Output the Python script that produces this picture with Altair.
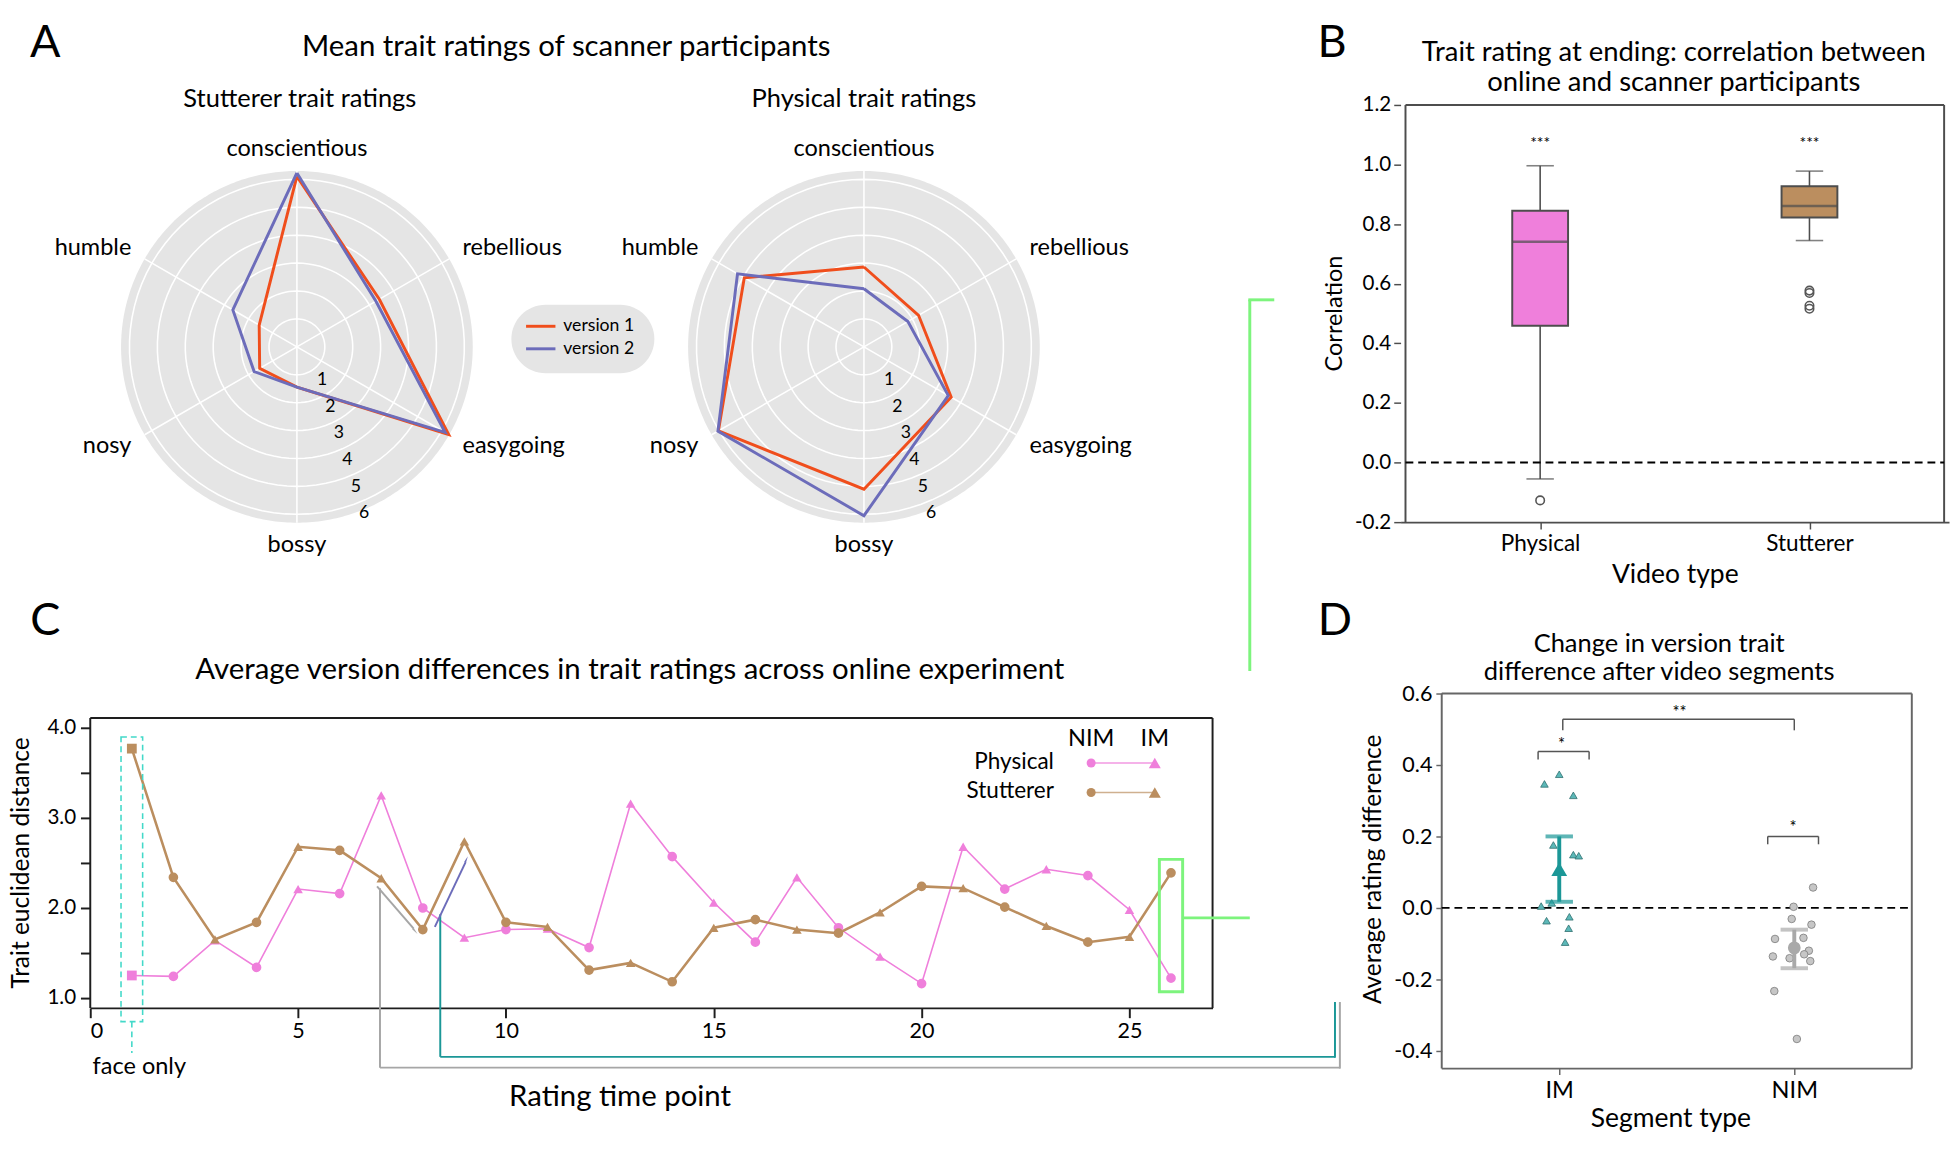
import altair as alt
import pandas as pd

FONT = "Lato"
PINK = "#EF7FDB"
TAN = "#BB8E5F"
ORANGE = "#F04E1C"
PURPLE = "#6C6CBA"
TEAL = "#1B9797"
TEAL_PT = "#5CB8B8"
GREY_PT = "#C6C6C6"
GREY_MEAN = "#A9A9A9"
GREEN = "#7DF47D"
CYAN = "#43D9C9"
CONN_GREY = "#A6A6A6"
DISC = "#E5E5E5"
MINUS = "\u2212"

ONE = pd.DataFrame({"k": [0]})

# ---------------- data ----------------
# A: radar charts
traits = ["conscientious", "rebellious", "easygoing", "bossy", "nosy", "humble"]
radar_panels = ["Stutterer", "Physical"]
versions = ["version 1", "version 2"]
stut_v1 = [6.11, 3.41, 6.28, 1.44, 1.54, 1.56]
stut_v2 = [6.23, 3.27, 6.13, 1.44, 1.77, 2.65]
phys_v1 = [2.86, 2.26, 3.61, 5.10, 6.02, 4.95]
phys_v2 = [2.08, 1.82, 3.49, 6.05, 6.04, 5.23]
radial_ticks = [1, 2, 3, 4, 5, 6]

# B: box plots
video_types = ["Physical", "Stutterer"]
box_low = [-0.055, 0.745]
box_q1 = [0.459, 0.822]
box_med = [0.741, 0.861]
box_q3 = [0.845, 0.927]
box_high = [0.996, 0.978]
box_sig = ["***", "***"]
outlier_type = ["Physical", "Stutterer", "Stutterer", "Stutterer", "Stutterer"]
outlier_val = [-0.127, 0.577, 0.569, 0.526, 0.516]

# C: time course
time_point = [1, 2, 3, 4, 5, 6, 7, 8, 9, 10, 11, 12, 13,
              14, 15, 16, 17, 18, 19, 20, 21, 22, 23, 24, 25, 26]
segment = ["face", "NIM", "IM", "NIM", "IM", "NIM", "IM", "NIM", "IM", "NIM", "IM", "NIM", "IM",
           "NIM", "IM", "NIM", "IM", "NIM", "IM", "NIM", "IM", "NIM", "IM", "NIM", "IM", "NIM"]
phys_dist = [1.25, 1.24, 1.64, 1.34, 2.21, 2.16, 3.25, 2.00, 1.67, 1.76, 1.77, 1.56, 3.16,
             2.57, 2.06, 1.62, 2.34, 1.78, 1.46, 1.16, 2.68, 2.21, 2.43, 2.36, 1.98, 1.22]
stut_dist = [3.77, 2.34, 1.65, 1.84, 2.68, 2.64, 2.33, 1.76, 2.74, 1.84, 1.79, 1.31, 1.39,
             1.18, 1.78, 1.87, 1.76, 1.72, 1.95, 2.24, 2.22, 2.01, 1.80, 1.62, 1.68, 2.39]

# D: segment differences
seg_types = ["IM", "NIM"]
im_diff = [0.347, 0.374, 0.315, 0.176, 0.149, 0.146, 0.005, 0.014, -0.036, -0.025, -0.057, -0.096]
im_jitter = [-0.063, 0.0, 0.060, -0.025, 0.060, 0.083, -0.077, -0.032, -0.054, 0.043, 0.040, 0.025]
nim_diff = [0.057, 0.003, -0.031, -0.047, -0.087, -0.084, -0.120, -0.130, -0.136, -0.141, -0.149,
            -0.233, -0.367]
nim_jitter = [0.080, -0.003, -0.011, 0.073, -0.082, 0.039, 0.062, 0.042, -0.091, -0.020, 0.068,
              -0.085, 0.011]
seg_mean = [0.108, -0.112]
seg_lo = [0.017, -0.169]
seg_hi = [0.200, -0.061]

# significance brackets (annotation, data units)
brk_x = [-0.09, -0.09, 0.127, 0.887, 0.887, 1.103, 0.015, 0.015, 1.0]
brk_x2 = [0.127, -0.09, 0.127, 1.103, 0.887, 1.103, 1.0, 0.015, 1.0]
brk_y = [0.438, 0.415, 0.415, 0.200, 0.178, 0.178, 0.528, 0.497, 0.497]
brk_y2 = [0.438, 0.438, 0.438, 0.200, 0.200, 0.200, 0.528, 0.528, 0.528]
sig_x = [0.01, 0.995, 0.512]
sig_y = [0.456, 0.222, 0.546]
sig_lab = ["*", "*", "**"]


def txt(text, x, y, size, align="center", baseline="middle", color="black", angle=0):
    return alt.Chart(ONE).mark_text(
        text=text, fontSize=size, align=align, baseline=baseline, color=color, angle=angle
    ).encode(x=alt.value(x), y=alt.value(y))


def frame_rule(color, width, **enc):
    return alt.Chart(ONE).mark_rule(color=color, strokeWidth=width).encode(**enc)


B_TOP = 86            # free space above panel B's plot frame
B_H = 426             # panel B plot height
ROW1_H = B_TOP + B_H  # height of the top-row views
ROW_GAP = 662 - ROW1_H

# ================= A: radar =================
PX = 28.5
RW = 1104
CX, CY = 211, 333
POFF = 579 / PX
RMAX = 6.3
RLAB = 7.1
RT_ANG = 162.4
xdom = [-CX / PX, (RW - CX) / PX]
ydom = [-(ROW1_H - CY) / PX, CY / PX]
offs = [0.0, POFF]

XS = alt.Scale(domain=xdom, nice=False, zero=False)
YS = alt.Scale(domain=ydom, nice=False, zero=False)


def RX(f):
    return alt.X(f, scale=XS, axis=None)


def RY(f):
    return alt.Y(f, scale=YS, axis=None)


panels_df = pd.DataFrame({"panel": radar_panels, "off": offs})
rings_df = pd.DataFrame([{"panel": p, "off": o, "r": r}
                         for p, o in zip(radar_panels, offs) for r in radial_ticks])
spokes_df = pd.DataFrame([{"panel": p, "off": o, "k": k}
                          for p, o in zip(radar_panels, offs) for k in range(len(traits))])
labels_df = pd.DataFrame([{"panel": p, "off": o, "k": k, "name": n}
                          for p, o in zip(radar_panels, offs) for k, n in enumerate(traits)])
poly_rows = []
for p, o, v1, v2 in zip(radar_panels, offs, [stut_v1, phys_v1], [stut_v2, phys_v2]):
    for ver, vals in zip(versions, [v1, v2]):
        for i in range(len(traits) + 1):
            poly_rows.append({"panel": p, "off": o, "version": ver, "idx": i,
                              "val": vals[i % len(traits)]})
poly_df = pd.DataFrame(poly_rows)

disc = (alt.Chart(panels_df)
        .transform_calculate(t="sequence(-90, 91, 1)")
        .transform_flatten(["t"])
        .transform_calculate(x=f"datum.off + {RMAX} * sin(datum.t * PI / 180)")
        .transform_calculate(y=f"{RMAX} * cos(datum.t * PI / 180)")
        .transform_calculate(y2="-datum.y")
        .mark_area(color=DISC)
        .encode(x=RX("x:Q"), y=RY("y:Q"), y2="y2:Q", detail="panel:N"))

rings = (alt.Chart(rings_df)
         .transform_calculate(a="sequence(0, 364, 4)")
         .transform_flatten(["a"])
         .transform_calculate(x="datum.off + datum.r * sin(datum.a * PI / 180)")
         .transform_calculate(y="datum.r * cos(datum.a * PI / 180)")
         .transform_calculate(key="datum.panel + '-' + datum.r")
         .mark_line(color="white", strokeWidth=1.6)
         .encode(x=RX("x:Q"), y=RY("y:Q"), detail="key:N", order="a:Q"))

spokes = (alt.Chart(spokes_df)
          .transform_calculate(x0="datum.off", y0="0")
          .transform_calculate(x1=f"datum.off + {RMAX} * sin(datum.k * PI / 3)")
          .transform_calculate(y1=f"{RMAX} * cos(datum.k * PI / 3)")
          .mark_rule(color="white", strokeWidth=1.6)
          .encode(x=RX("x0:Q"), y=RY("y0:Q"), x2="x1:Q", y2="y1:Q"))

polys = (alt.Chart(poly_df)
         .transform_calculate(x="datum.off + datum.val * sin(datum.idx * PI / 3)")
         .transform_calculate(y="datum.val * cos(datum.idx * PI / 3)")
         .mark_line(strokeWidth=3)
         .encode(x=RX("x:Q"), y=RY("y:Q"),
                 color=alt.Color("version:N", scale=alt.Scale(domain=versions, range=[ORANGE, PURPLE]),
                                 legend=None),
                 detail="panel:N", order="idx:Q"))

lab_base = (alt.Chart(labels_df)
            .transform_calculate(x=f"datum.off + {RLAB - 0.25} * sin(datum.k * PI / 3)")
            .transform_calculate(y=f"{RLAB} * cos(datum.k * PI / 3)"))
lab_c = lab_base.transform_filter("datum.k == 0 || datum.k == 3").mark_text(
    fontSize=24, align="center", baseline="middle").encode(x=RX("x:Q"), y=RY("y:Q"), text="name:N")
lab_l = lab_base.transform_filter("datum.k == 1 || datum.k == 2").mark_text(
    fontSize=24, align="left", baseline="middle").encode(x=RX("x:Q"), y=RY("y:Q"), text="name:N")
lab_r = lab_base.transform_filter("datum.k == 4 || datum.k == 5").mark_text(
    fontSize=24, align="right", baseline="middle").encode(x=RX("x:Q"), y=RY("y:Q"), text="name:N")

rtick = (alt.Chart(rings_df)
         .transform_calculate(x=f"datum.off + datum.r * sin({RT_ANG} * PI / 180)")
         .transform_calculate(y=f"datum.r * cos({RT_ANG} * PI / 180)")
         .mark_text(fontSize=18, dx=17, dy=7)
         .encode(x=RX("x:Q"), y=RY("y:Q"), text="r:Q"))

leg_box = alt.Chart(ONE).mark_rect(color=DISC, cornerRadius=35).encode(
    x=alt.value(430), x2=alt.value(576), y=alt.value(290), y2=alt.value(360))
leg_l1 = alt.Chart(ONE).mark_rule(color=ORANGE, strokeWidth=3).encode(
    x=alt.value(445), x2=alt.value(475), y=alt.value(312))
leg_l2 = alt.Chart(ONE).mark_rule(color=PURPLE, strokeWidth=3).encode(
    x=alt.value(445), x2=alt.value(475), y=alt.value(335))

radar = alt.layer(
    disc, rings, spokes, polys, lab_c, lab_l, lab_r, rtick,
    leg_box, leg_l1, leg_l2,
    txt(versions[0], 483, 312, 18, align="left"),
    txt(versions[1], 483, 335, 18, align="left"),
    txt("A", -46, 23, 46),
    txt("Mean trait ratings of scanner participants", 486, 27, 30),
    txt("Stutterer trait ratings", 214, 80, 26),
    txt("Physical trait ratings", 790, 80, 26),
).properties(width=RW, height=ROW1_H, view=alt.ViewBackground(stroke="transparent"))

# ================= B: box plots =================
AXB = "#4D4D4D"
B_LO, B_HI = -0.2, 1.2
B_TOPVAL = B_HI + B_TOP * (B_HI - B_LO) / B_H
bdf = pd.DataFrame({"type": video_types, "pos": list(range(len(video_types))),
                    "low": box_low, "q1": box_q1, "med": box_med, "q3": box_q3,
                    "high": box_high, "sig": box_sig})
odf = pd.DataFrame({"type": outlier_type, "val": outlier_val,
                    "pos": [video_types.index(t) for t in outlier_type]})

XB_AX = alt.Axis(values=[0, 1], labelExpr=f"datum.value == 0 ? '{video_types[0]}' : '{video_types[1]}'",
                 title="Video type", titleFontSize=27, titlePadding=7, labelFontSize=23,
                 tickSize=7, labelPadding=4, domainColor=AXB, domainWidth=2, tickColor=AXB,
                 tickWidth=1.5, grid=False)
YB_AX = alt.Axis(values=[-0.2, 0, 0.2, 0.4, 0.6, 0.8, 1.0, 1.2],
                 labelExpr=f"replace(format(datum.value, '.1f'), '{MINUS}', '-')",
                 title=None, labelFontSize=21, domain=False,
                 tickSize=7, labelPadding=3, tickColor=AXB, tickWidth=1.5, grid=False)
XBS = alt.Scale(domain=[-0.5, 1.5], nice=False, zero=False)
YBS = alt.Scale(domain=[B_LO, B_TOPVAL], nice=False, zero=False)


def BX(f="pos:Q"):
    return alt.X(f, scale=XBS, axis=XB_AX)


def BY(f):
    return alt.Y(f, scale=YBS, axis=YB_AX)


b_frame = [
    frame_rule(AXB, 2, x=alt.datum(-0.5), x2=alt.datum(1.5), y=alt.datum(B_HI)),
    frame_rule(AXB, 2, x=alt.datum(-0.5), y=alt.datum(B_LO), y2=alt.datum(B_HI)),
    frame_rule(AXB, 2, x=alt.datum(1.5), y=alt.datum(B_LO), y2=alt.datum(B_HI)),
]
b_whisk = alt.Chart(bdf).mark_rule(color=AXB, strokeWidth=1.6).encode(
    x=BX(), y=BY("low:Q"), y2="high:Q")
b_cap_lo = alt.Chart(bdf).mark_tick(orient="horizontal", size=28, thickness=1.6, color=AXB).encode(
    x=BX(), y=BY("low:Q"))
b_cap_hi = alt.Chart(bdf).mark_tick(orient="horizontal", size=28, thickness=1.6, color=AXB).encode(
    x=BX(), y=BY("high:Q"))
b_box = alt.Chart(bdf).mark_bar(size=57, stroke=AXB, strokeWidth=2).encode(
    x=BX(), y=BY("q1:Q"), y2="q3:Q",
    color=alt.Color("type:N", scale=alt.Scale(domain=video_types, range=[PINK, TAN]), legend=None))
b_med = alt.Chart(bdf).mark_tick(orient="horizontal", size=57, thickness=2.5, color=AXB).encode(
    x=BX(), y=BY("med:Q"))
b_out = alt.Chart(odf).mark_point(shape="circle", size=75, filled=False, color="#555555",
                                  strokeWidth=1.6, opacity=1).encode(x=BX(), y=BY("val:Q"))
b_zero = alt.Chart(ONE).mark_rule(color="black", strokeWidth=2, strokeDash=[8, 5]).encode(
    x=alt.datum(-0.5), x2=alt.datum(1.5), y=alt.datum(0))
b_sig = alt.Chart(bdf).mark_text(fontSize=16, baseline="middle").encode(
    x=BX(), y=alt.datum(1.073), text="sig:N")

b_chart = alt.layer(
    *b_frame, b_whisk, b_cap_lo, b_cap_hi, b_box, b_med, b_out, b_zero, b_sig,
    txt("B", -70, 23, 46),
    txt("Trait rating at ending: correlation between", 279, B_TOP - 53, 28),
    txt("online and scanner participants", 279, B_TOP - 22, 28),
    txt("Correlation", -67, B_TOP + B_H / 2, 24, angle=270),
).properties(width=560, height=ROW1_H, view=alt.ViewBackground(stroke="transparent"))

# ================= C: time course =================
AXC = "#1E1E1E"
C_TOP = 50  # free space above the plot frame inside the view
C_H = 296
C_LO, C_HI = 0.89, 4.11
C_TOPVAL = C_HI + C_TOP * (C_HI - C_LO) / C_H
cdf = pd.concat([
    pd.DataFrame({"t": time_point, "seg": segment, "v": phys_dist, "series": "Physical"}),
    pd.DataFrame({"t": time_point, "seg": segment, "v": stut_dist, "series": "Stutterer"}),
])
XCS = alt.Scale(domain=[0, 27], nice=False, zero=False)
YCS = alt.Scale(domain=[C_LO, C_TOPVAL], nice=False, zero=False)
XC_AX = alt.Axis(values=[0, 5, 10, 15, 20, 25], title=None, labelFontSize=22, tickSize=10,
                 labelPadding=3, domainColor=AXC, domainWidth=2, tickColor=AXC, tickWidth=2, grid=False)
YC_AX = alt.Axis(values=[1, 1.5, 2, 2.5, 3, 3.5, 4],
                 labelExpr="datum.value % 1 == 0 ? format(datum.value, '.1f') : ''",
                 title=None, labelFontSize=21, tickSize=10, labelPadding=5, domain=False,
                 tickColor=AXC, tickWidth=2, grid=False)


def CXe(f="t:Q"):
    return alt.X(f, scale=XCS, axis=XC_AX)


def CYe(f="v:Q"):
    return alt.Y(f, scale=YCS, axis=YC_AX)


c_frame = [
    frame_rule(AXC, 2, x=alt.datum(0), x2=alt.datum(27), y=alt.datum(C_HI)),
    frame_rule(AXC, 2, x=alt.datum(0), y=alt.datum(C_LO), y2=alt.datum(C_HI)),
    frame_rule(AXC, 2, x=alt.datum(27), y=alt.datum(C_LO), y2=alt.datum(C_HI)),
]

c_line_p = alt.Chart(cdf).transform_filter("datum.series == 'Physical'").mark_line(
    color=PINK, strokeWidth=1.6).encode(x=CXe(), y=CYe(), order="t:Q")
c_line_s = alt.Chart(cdf).transform_filter("datum.series == 'Stutterer'").mark_line(
    color=TAN, strokeWidth=2.6).encode(x=CXe(), y=CYe(), order="t:Q")
c_pts = alt.Chart(cdf).mark_point(filled=True, opacity=1).encode(
    x=CXe(), y=CYe(),
    shape=alt.Shape("seg:N", scale=alt.Scale(domain=["face", "NIM", "IM"],
                                              range=["square", "circle", "triangle-up"]), legend=None),
    size=alt.Size("seg:N", scale=alt.Scale(domain=["face", "NIM", "IM"], range=[100, 95, 150]),
                  legend=None),
    color=alt.Color("series:N", scale=alt.Scale(domain=video_types, range=[PINK, TAN]), legend=None),
    order=alt.Order("series:N"))

T = C_TOP
c_cyan_box = alt.Chart(ONE).mark_rect(fillOpacity=0, stroke=CYAN, strokeWidth=1.6,
                                      strokeDash=[6, 4]).encode(
    x=alt.datum(0.74), x2=alt.datum(1.26), y=alt.datum(3.90), y2=alt.value(310 + T))
c_cyan_line = alt.Chart(ONE).mark_rule(color=CYAN, strokeWidth=1.6, strokeDash=[6, 4]).encode(
    x=alt.datum(1), y=alt.value(310 + T), y2=alt.value(342 + T))
c_green_box = alt.Chart(ONE).mark_rect(fillOpacity=0, stroke=GREEN, strokeWidth=3).encode(
    x=alt.datum(25.72), x2=alt.datum(26.28), y=alt.datum(2.54), y2=alt.datum(1.07))
c_green_1 = alt.Chart(ONE).mark_rule(color=GREEN, strokeWidth=3).encode(
    x=alt.datum(26.28), x2=alt.value(1184), y=alt.datum(1.89))
c_green_2 = alt.Chart(ONE).mark_rule(color=GREEN, strokeWidth=3).encode(
    x=alt.value(1184), y=alt.value(-427 + T), y2=alt.datum(1.89))
c_green_3 = alt.Chart(ONE).mark_rule(color=GREEN, strokeWidth=3).encode(
    x=alt.value(1182.5), x2=alt.value(1209), y=alt.value(-427 + T))

c_grey_arrow = alt.Chart(ONE).mark_rule(color=CONN_GREY, strokeWidth=2).encode(
    x=alt.datum(6.90), y=alt.datum(2.24), x2=alt.datum(7.78), y2=alt.datum(1.77))
c_grey_head = alt.Chart(ONE).mark_point(shape="wedge", angle=140, filled=True, size=70,
                                        color=CONN_GREY, opacity=1).encode(
    x=alt.datum(7.80), y=alt.datum(1.75))
c_grey_v = alt.Chart(ONE).mark_rule(color=CONN_GREY, strokeWidth=2).encode(
    x=alt.datum(6.97), y=alt.datum(2.22), y2=alt.value(357 + T))
c_grey_h = alt.Chart(ONE).mark_rule(color=CONN_GREY, strokeWidth=2).encode(
    x=alt.datum(6.97), x2=alt.value(1276), y=alt.value(357 + T))
c_grey_v2 = alt.Chart(ONE).mark_rule(color=CONN_GREY, strokeWidth=2).encode(
    x=alt.value(1276), y=alt.value(358 + T), y2=alt.value(290 + T))
c_teal_v = alt.Chart(ONE).mark_rule(color=TEAL, strokeWidth=2).encode(
    x=alt.datum(8.42), y=alt.datum(1.93), y2=alt.value(346 + T))
c_teal_h = alt.Chart(ONE).mark_rule(color=TEAL, strokeWidth=2).encode(
    x=alt.datum(8.42), x2=alt.value(1271), y=alt.value(346 + T))
c_teal_v2 = alt.Chart(ONE).mark_rule(color=TEAL, strokeWidth=2).encode(
    x=alt.value(1271), y=alt.value(347 + T), y2=alt.value(290 + T))
c_blue_arrow = alt.Chart(ONE).mark_rule(color=PURPLE, strokeWidth=2).encode(
    x=alt.datum(8.29), y=alt.datum(1.79), x2=alt.datum(9.03), y2=alt.datum(2.51))
c_blue_head = alt.Chart(ONE).mark_point(shape="wedge", angle=25, filled=True, size=60,
                                        color=PURPLE, opacity=1).encode(
    x=alt.datum(9.04), y=alt.datum(2.53))

LX_NIM, LX_IM, LX_LAB = 1022, 1087, 984
c_leg = [
    txt(seg_types[1], LX_NIM, 22 + T, 24), txt(seg_types[0], LX_IM, 22 + T, 24),
    txt(video_types[0], LX_LAB, 45 + T, 23, align="right"),
    txt(video_types[1], LX_LAB, 75 + T, 23, align="right"),
    alt.Chart(ONE).mark_rule(color=PINK, strokeWidth=1.6, opacity=0.8).encode(
        x=alt.value(LX_NIM), x2=alt.value(LX_IM), y=alt.value(46 + T)),
    alt.Chart(ONE).mark_rule(color=TAN, strokeWidth=1.6, opacity=0.7).encode(
        x=alt.value(LX_NIM), x2=alt.value(LX_IM), y=alt.value(76 + T)),
    alt.Chart(ONE).mark_point(shape="circle", filled=True, size=85, color=PINK, opacity=1).encode(
        x=alt.value(LX_NIM), y=alt.value(46 + T)),
    alt.Chart(ONE).mark_point(shape="circle", filled=True, size=85, color=TAN, opacity=1).encode(
        x=alt.value(LX_NIM), y=alt.value(76 + T)),
    alt.Chart(ONE).mark_point(shape="triangle-up", filled=True, size=150, color=PINK, opacity=1).encode(
        x=alt.value(LX_IM), y=alt.value(46 + T)),
    alt.Chart(ONE).mark_point(shape="triangle-up", filled=True, size=150, color=TAN, opacity=1).encode(
        x=alt.value(LX_IM), y=alt.value(76 + T)),
]

c_face = alt.Chart(ONE).mark_text(text="face only", fontSize=24).encode(
    x=alt.datum(1.18), y=alt.value(357 + T))

c_chart = alt.layer(
    *c_frame,
    c_line_p, c_line_s, c_pts,
    c_cyan_box, c_cyan_line, c_green_box, c_green_1, c_green_2, c_green_3,
    c_grey_arrow, c_grey_head, c_grey_v, c_grey_h, c_grey_v2,
    c_teal_v, c_teal_h, c_teal_v2, c_blue_arrow, c_blue_head,
    *c_leg, c_face,
    txt("Trait euclidean distance", -71, 148 + T, 25, angle=270),
    txt("Rating time point", 541, 387 + T, 30),
    txt("Average version differences in trait ratings across online experiment", 551, -49 + T, 30),
    txt("C", -46, -99 + T, 46),
).properties(width=1146, height=C_H + C_TOP, view=alt.ViewBackground(stroke="transparent"))

# ================= D: segment differences =================
AXD = "#666666"
D_EXT = 42            # free space left of the plot frame inside the view
D_TOP = 25            # free space above the plot frame inside the view
D_W, D_H = 480, 383
D_XLO, D_XHI = -0.5, 1.5
D_LO, D_HI = -0.45, 0.6
D_XMIN = D_XLO - D_EXT * (D_XHI - D_XLO) / D_W
D_TOPVAL = D_HI + D_TOP * (D_HI - D_LO) / D_H
dpts = pd.DataFrame({"seg": ["IM"] * len(im_diff) + ["NIM"] * len(nim_diff),
                     "v": im_diff + nim_diff, "jit": im_jitter + nim_jitter})
dmean = pd.DataFrame({"seg": seg_types, "pos": [0, 1], "mean": seg_mean, "lo": seg_lo, "hi": seg_hi})
dbrk = pd.DataFrame({"x": brk_x, "x2": brk_x2, "y": brk_y, "y2": brk_y2})
dsig = pd.DataFrame({"x": sig_x, "y": sig_y, "lab": sig_lab})

XDS = alt.Scale(domain=[D_XMIN, D_XHI], nice=False, zero=False)
YDS = alt.Scale(domain=[D_LO, D_TOPVAL], nice=False, zero=False)
XD_AX = alt.Axis(values=[0, 1], labelExpr=f"datum.value == 0 ? '{seg_types[0]}' : '{seg_types[1]}'",
                 title=None, labelFontSize=24, domain=False,
                 tickSize=6, labelPadding=4, tickColor=AXD, tickWidth=1.5, grid=False)
YD_AX = alt.Axis(values=[-0.4, -0.2, 0, 0.2, 0.4, 0.6],
                 labelExpr=f"replace(format(datum.value, '.1f'), '{MINUS}', '-')",
                 title="Average rating difference", titleFontSize=25, titlePadding=9,
                 labelFontSize=22, tickSize=6, labelPadding=4, domain=False, offset=-D_EXT,
                 tickColor=AXD, tickWidth=1.5, grid=False)


def DX(f):
    return alt.X(f, scale=XDS, axis=XD_AX)


def DY(f):
    return alt.Y(f, scale=YDS, axis=YD_AX)


d_frame = [
    frame_rule(AXD, 2, x=alt.datum(D_XLO), x2=alt.datum(D_XHI), y=alt.datum(D_HI)),
    frame_rule(AXD, 2, x=alt.datum(D_XLO), x2=alt.datum(D_XHI), y=alt.datum(D_LO)),
    frame_rule(AXD, 2, x=alt.datum(D_XLO), y=alt.datum(D_LO), y2=alt.datum(D_HI)),
    frame_rule(AXD, 2, x=alt.datum(D_XHI), y=alt.datum(D_LO), y2=alt.datum(D_HI)),
]
d_base = alt.Chart(dpts).transform_calculate(
    xp=f"(datum.seg == '{seg_types[0]}' ? 0 : 1) + datum.jit")
d_im = d_base.transform_filter(f"datum.seg == '{seg_types[0]}'").mark_point(
    shape="triangle-up", filled=True, size=60, fill=TEAL_PT, stroke="#2E6E6E", strokeWidth=0.8,
    opacity=1).encode(x=DX("xp:Q"), y=DY("v:Q"))
d_nim = d_base.transform_filter(f"datum.seg == '{seg_types[1]}'").mark_point(
    shape="circle", filled=True, size=60, fill=GREY_PT, stroke="#7A7A7A", strokeWidth=0.8,
    opacity=1).encode(x=DX("xp:Q"), y=DY("v:Q"))
d_zero = alt.Chart(ONE).mark_rule(color="black", strokeWidth=2, strokeDash=[8, 5]).encode(
    x=alt.datum(D_XLO), x2=alt.datum(D_XHI), y=alt.datum(0))
mean_color = alt.Color("seg:N", scale=alt.Scale(domain=seg_types, range=[TEAL, GREY_MEAN]), legend=None)
d_err = alt.Chart(dmean).mark_rule(strokeWidth=4).encode(
    x=DX("pos:Q"), y=DY("lo:Q"), y2="hi:Q", color=mean_color)
d_cap_lo = alt.Chart(dmean).mark_tick(orient="horizontal", size=28, thickness=4).encode(
    x=DX("pos:Q"), y=DY("lo:Q"), color=mean_color)
d_cap_hi = alt.Chart(dmean).mark_tick(orient="horizontal", size=28, thickness=4).encode(
    x=DX("pos:Q"), y=DY("hi:Q"), color=mean_color)
d_mean_pt = alt.Chart(dmean).mark_point(filled=True, opacity=1).encode(
    x=DX("pos:Q"), y=DY("mean:Q"), color=mean_color,
    shape=alt.Shape("seg:N", scale=alt.Scale(domain=seg_types, range=["triangle-up", "circle"]),
                    legend=None),
    size=alt.Size("seg:N", scale=alt.Scale(domain=seg_types, range=[260, 170]), legend=None))
d_brk = alt.Chart(dbrk).mark_rule(color="#555555", strokeWidth=1.5).encode(
    x=DX("x:Q"), x2="x2:Q", y=DY("y:Q"), y2="y2:Q")
d_sig = alt.Chart(dsig).mark_text(fontSize=17, baseline="middle").encode(
    x=DX("x:Q"), y=DY("y:Q"), text="lab:N")

DT = D_TOP
d_chart = alt.layer(
    *d_frame, d_zero, d_im, d_nim, d_err, d_cap_lo, d_cap_hi, d_mean_pt, d_brk, d_sig,
    txt("D", D_EXT - 109, DT - 74, 46),
    txt("Change in version trait", D_EXT + 222, DT - 50, 26),
    txt("difference after video segments", D_EXT + 222, DT - 22, 26),
    txt("Segment type", D_EXT + 234, DT + D_H + 52, 27),
).properties(width=D_W + D_EXT, height=D_H + D_TOP,
             view=alt.ViewBackground(stroke="transparent"))

# ================= assemble =================
chart = (alt.concat(radar, b_chart, c_chart, d_chart, columns=2,
                    spacing={"row": ROW_GAP, "column": 192}, bounds="flush", align="none")
         .resolve_scale(color="independent", shape="independent", size="independent")
         .properties(padding=0)
         .configure(font=FONT)
         .configure_axis(labelFont=FONT, titleFont=FONT, titleFontWeight="normal",
                         labelColor="black", titleColor="black"))

chart.save("out.html", embed_options={"renderer": "svg", "actions": False})
